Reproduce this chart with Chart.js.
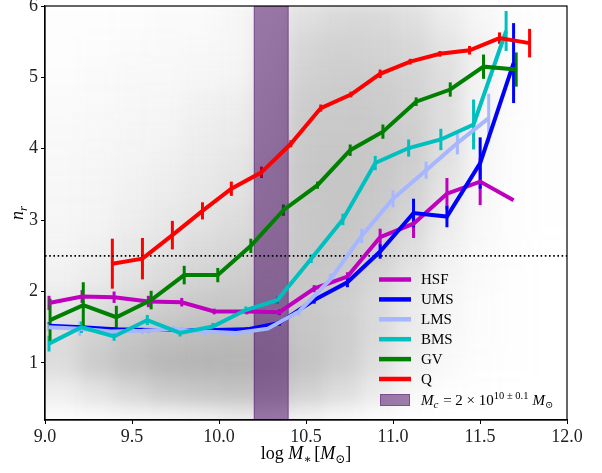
<!DOCTYPE html>
<html>
<head>
<meta charset="utf-8">
<script src="https://cdn.jsdelivr.net/npm/chart.js@4.4.1/dist/chart.umd.min.js"></script>
<style>
  body { margin: 0; background: #fff; }
  canvas { display: block; }
</style>
</head>
<body>
<canvas id="myChart" width="602" height="473"></canvas>
<script>
// tick labels
const xTicks = [9.0, 9.5, 10.0, 10.5, 11.0, 11.5, 12.0];
const yTicks = [1, 2, 3, 4, 5, 6];

// median n_r per mass bin
const hsfX = [9.023, 9.213, 9.397, 9.594, 9.786, 9.972, 10.16, 10.347, 10.547, 10.738, 10.926, 11.118, 11.31, 11.501, 11.693];
const hsfY = [1.84, 1.93, 1.92, 1.86, 1.85, 1.72, 1.72, 1.71, 2.04, 2.21, 2.76, 2.95, 3.37, 3.54, 3.28];
const hsfErr = [0.1, 0.09, 0.08, 0.08, 0.06, 0.04, 0.04, 0.04, 0.05, 0.06, 0.12, 0.2, 0.22, 0.33, 0];

const umsX = [9.023, 9.213, 9.397, 9.594, 9.786, 9.972, 10.16, 10.347, 10.547, 10.738, 10.926, 11.118, 11.31, 11.501, 11.693];
const umsY = [1.52, 1.50, 1.47, 1.46, 1.46, 1.46, 1.47, 1.56, 1.88, 2.13, 2.56, 3.10, 3.05, 3.80, 5.20];
const umsErr = [0.05, 0.04, 0.03, 0.03, 0.03, 0.03, 0.03, 0.04, 0.05, 0.07, 0.1, 0.2, 0.15, 0.36, 0.56];

const lmsX = [9.02, 9.20, 9.38, 9.56, 9.74, 9.92, 10.10, 10.28, 10.46, 10.64, 10.82, 11.0, 11.19, 11.37, 11.55];
const lmsY = [1.50, 1.48, 1.44, 1.45, 1.47, 1.44, 1.42, 1.48, 1.72, 2.17, 2.78, 3.30, 3.70, 4.08, 4.43];
const lmsErr = [0.05, 0.1, 0.05, 0.05, 0.05, 0.05, 0.05, 0.05, 0.06, 0.08, 0.1, 0.12, 0.12, 0.16, 0.34];

const bmsX = [9.023, 9.21, 9.397, 9.588, 9.776, 9.964, 10.154, 10.336, 10.53, 10.712, 10.898, 11.09, 11.275, 11.463, 11.65];
const bmsY = [1.27, 1.50, 1.37, 1.60, 1.42, 1.51, 1.74, 1.88, 2.46, 3.01, 3.80, 4.01, 4.13, 4.34, 5.65];
const bmsErr = [0.11, 0.08, 0.06, 0.07, 0.05, 0.05, 0.05, 0.05, 0.06, 0.08, 0.1, 0.12, 0.15, 0.35, 0.28];

const gvX = [9.029, 9.22, 9.41, 9.61, 9.80, 9.993, 10.183, 10.37, 10.566, 10.754, 10.942, 11.133, 11.329, 11.52, 11.708];
const gvY = [1.60, 1.81, 1.64, 1.88, 2.23, 2.23, 2.64, 3.14, 3.49, 3.98, 4.24, 4.66, 4.83, 5.15, 5.11];
const gvErr = [0.3, 0.32, 0.16, 0.13, 0.13, 0.1, 0.1, 0.08, 0.05, 0.08, 0.1, 0.06, 0.1, 0.17, 0.24];

const qX = [9.387, 9.56, 9.732, 9.905, 10.071, 10.244, 10.413, 10.585, 10.758, 10.926, 11.099, 11.27, 11.44, 11.612, 11.785];
const qY = [2.39, 2.46, 2.79, 3.13, 3.44, 3.67, 4.07, 4.57, 4.76, 5.05, 5.22, 5.33, 5.38, 5.55, 5.48];
const qErr = [0.35, 0.29, 0.2, 0.12, 0.1, 0.08, 0.05, 0.05, 0.04, 0.06, 0.04, 0.04, 0.06, 0.08, 0.2];

// critical mass band and n_r threshold
const bandLo = 10.2;
const bandHi = 10.4;
const nThreshold = 2.5;

// background galaxy cloud: rough density per cell
const cloudXEdges = [9.0, 9.2, 9.4, 9.6, 9.8, 10.0, 10.2, 10.4, 10.6, 10.8, 11.0, 11.2, 11.4, 11.6, 11.8, 12.0];
const cloudYEdges = [0.2, 0.4, 0.8, 1.2, 1.6, 2.0, 2.4, 2.8, 3.2, 3.6, 4.0, 4.4, 4.8, 5.2, 5.6, 6.0];
const cloudDensity = [
  [0.02, 0.03, 0.05, 0.07, 0.10, 0.15, 0.15, 0.10, 0.05, 0.03, 0.01, 0, 0, 0, 0],
  [0.15, 0.25, 0.35, 0.45, 0.50, 0.52, 0.50, 0.40, 0.30, 0.18, 0.07, 0.02, 0.01, 0, 0],
  [0.30, 0.45, 0.55, 0.62, 0.65, 0.65, 0.62, 0.52, 0.42, 0.28, 0.13, 0.05, 0.02, 0.01, 0],
  [0.30, 0.40, 0.50, 0.55, 0.58, 0.60, 0.58, 0.50, 0.44, 0.32, 0.18, 0.07, 0.03, 0.01, 0],
  [0.20, 0.28, 0.35, 0.42, 0.48, 0.50, 0.50, 0.47, 0.42, 0.32, 0.18, 0.08, 0.03, 0.01, 0],
  [0.12, 0.18, 0.25, 0.32, 0.38, 0.42, 0.46, 0.48, 0.45, 0.36, 0.22, 0.10, 0.04, 0.01, 0],
  [0.10, 0.13, 0.20, 0.25, 0.32, 0.35, 0.42, 0.48, 0.48, 0.42, 0.28, 0.13, 0.05, 0.02, 0],
  [0.08, 0.10, 0.15, 0.20, 0.25, 0.30, 0.38, 0.48, 0.50, 0.46, 0.35, 0.17, 0.06, 0.02, 0.01],
  [0.07, 0.09, 0.12, 0.16, 0.20, 0.25, 0.36, 0.48, 0.50, 0.48, 0.40, 0.22, 0.07, 0.02, 0.01],
  [0.06, 0.08, 0.10, 0.13, 0.18, 0.22, 0.34, 0.48, 0.50, 0.48, 0.42, 0.26, 0.08, 0.02, 0.01],
  [0.05, 0.06, 0.09, 0.10, 0.15, 0.18, 0.30, 0.46, 0.48, 0.47, 0.42, 0.28, 0.10, 0.02, 0.01],
  [0.04, 0.05, 0.07, 0.08, 0.12, 0.15, 0.27, 0.44, 0.46, 0.45, 0.40, 0.28, 0.10, 0.03, 0.01],
  [0.03, 0.04, 0.06, 0.06, 0.08, 0.10, 0.24, 0.40, 0.43, 0.42, 0.38, 0.28, 0.10, 0.03, 0.01],
  [0.02, 0.03, 0.04, 0.05, 0.06, 0.08, 0.20, 0.36, 0.40, 0.38, 0.34, 0.25, 0.12, 0.03, 0.01],
  [0.02, 0.02, 0.03, 0.04, 0.04, 0.08, 0.18, 0.28, 0.33, 0.33, 0.28, 0.18, 0.08, 0.03, 0.01]
];

const serif = '"Liberation Serif", "DejaVu Serif", serif';
const bandColor = 'rgba(65, 0, 95, 0.5)';

const series = [
  { label: 'HSF', x: hsfX, y: hsfY, err: hsfErr, color: '#bf00bf', order: 6 },
  { label: 'UMS', x: umsX, y: umsY, err: umsErr, color: '#0000ff', order: 5 },
  { label: 'LMS', x: lmsX, y: lmsY, err: lmsErr, color: '#a6b6ff', order: 4 },
  { label: 'BMS', x: bmsX, y: bmsY, err: bmsErr, color: '#00bfbf', order: 3 },
  { label: 'GV',  x: gvX,  y: gvY,  err: gvErr,  color: '#008000', order: 2 },
  { label: 'Q',   x: qX,   y: qY,   err: qErr,   color: '#ff0000', order: 1 }
];

// draws a run of text pieces (italic / sub / superscript) starting at x
function richText(ctx, parts, x, y, align) {
  const widths = parts.map(p => {
    ctx.font = `${p.italic ? 'italic ' : ''}${p.size}px ${serif}`;
    return ctx.measureText(p.t).width + (p.gap || 0);
  });
  const total = widths.reduce((a, b) => a + b, 0);
  let cx = align === 'center' ? x - total / 2 : x;
  ctx.textBaseline = 'alphabetic';
  ctx.textAlign = 'left';
  parts.forEach((p, i) => {
    ctx.font = `${p.italic ? 'italic ' : ''}${p.size}px ${serif}`;
    ctx.fillText(p.t, cx, y + (p.dy || 0));
    cx += widths[i];
  });
}

const backdrop = {
  id: 'backdrop',
  beforeDatasetsDraw(chart) {
    const { ctx, chartArea: a, scales: { x, y } } = chart;

    // galaxy cloud, softened
    const off = document.createElement('canvas');
    off.width = chart.width;
    off.height = chart.height;
    const o = off.getContext('2d');
    cloudDensity.forEach((row, j) => {
      row.forEach((v, i) => {
        if (!v) return;
        let x0 = x.getPixelForValue(cloudXEdges[i]);
        let x1 = x.getPixelForValue(cloudXEdges[i + 1]);
        let y0 = y.getPixelForValue(cloudYEdges[j + 1]);
        let y1 = y.getPixelForValue(cloudYEdges[j]);
        if (i === 0) x0 -= 20;
        if (i === row.length - 1) x1 += 20;
        if (j === 0) y1 += 20;
        if (j === cloudDensity.length - 1) y0 -= 20;
        o.fillStyle = `rgba(110, 110, 110, ${v * 0.78})`;
        o.fillRect(x0, y0, x1 - x0 + 0.5, y1 - y0 + 0.5);
      });
    });
    ctx.save();
    ctx.beginPath();
    ctx.rect(a.left, a.top, a.right - a.left, a.bottom - a.top);
    ctx.clip();
    ctx.filter = 'blur(9px)';
    ctx.drawImage(off, 0, 0);
    ctx.filter = 'none';

    // error bars (sit under the band)
    series.forEach(s => {
      ctx.strokeStyle = s.color;
      ctx.lineWidth = 3;
      s.x.forEach((xv, i) => {
        if (!s.err[i]) return;
        const px = x.getPixelForValue(xv);
        ctx.beginPath();
        ctx.moveTo(px, y.getPixelForValue(s.y[i] - s.err[i]));
        ctx.lineTo(px, y.getPixelForValue(s.y[i] + s.err[i]));
        ctx.stroke();
      });
    });

    // critical mass band
    const bx0 = x.getPixelForValue(bandLo);
    const bx1 = x.getPixelForValue(bandHi);
    ctx.fillStyle = bandColor;
    ctx.fillRect(bx0, a.top, bx1 - bx0, a.bottom - a.top);
    ctx.strokeStyle = 'rgba(65, 0, 95, 0.35)';
    ctx.lineWidth = 1;
    ctx.strokeRect(bx0 + 0.5, a.top, bx1 - bx0 - 1, a.bottom - a.top);

    // threshold
    const ty = y.getPixelForValue(nThreshold);
    ctx.strokeStyle = '#000';
    ctx.lineWidth = 1.6;
    ctx.setLineDash([1.6, 2.6]);
    ctx.beginPath();
    ctx.moveTo(a.left, ty);
    ctx.lineTo(a.right, ty);
    ctx.stroke();
    ctx.setLineDash([]);
    ctx.restore();
  },
  afterDraw(chart) {
    const { ctx, chartArea: a } = chart;
    ctx.save();
    ctx.strokeStyle = '#000';
    ctx.lineWidth = 1.2;
    ctx.strokeRect(a.left, a.top, a.right - a.left, a.bottom - a.top);

    // legend
    ctx.fillStyle = '#000';
    const lx0 = 379, lx1 = 411, tx = 421;
    series.forEach((s, i) => {
      const ly = 279.5 + i * 19.9;
      ctx.strokeStyle = s.color;
      ctx.lineWidth = 4.5;
      ctx.beginPath();
      ctx.moveTo(lx0, ly);
      ctx.lineTo(lx1, ly);
      ctx.stroke();
      ctx.font = `15px ${serif}`;
      ctx.textAlign = 'left';
      ctx.textBaseline = 'middle';
      ctx.fillText(s.label, tx, ly + 1);
    });
    ctx.fillStyle = bandColor;
    ctx.fillRect(380, 394, 30, 12);
    ctx.strokeStyle = 'rgba(65, 0, 95, 0.35)';
    ctx.lineWidth = 1;
    ctx.strokeRect(380.5, 394.5, 29, 11);
    ctx.fillStyle = '#000';
    richText(ctx, [
      { t: 'M', italic: true, size: 15 },
      { t: 'c', italic: true, size: 11, dy: 3, gap: 1 },
      { t: ' = 2 × 10', size: 15 },
      { t: '10 ± 0.1', size: 10.5, dy: -6, gap: 4 },
      { t: 'M', italic: true, size: 15 },
      { t: '⊙', size: 10, dy: 3 }
    ], tx, 405);

    // axis titles
    richText(ctx, [
      { t: 'log ', size: 18 },
      { t: 'M', italic: true, size: 18 },
      { t: '∗', size: 12, dy: 4, gap: 3 },
      { t: '[', size: 18 },
      { t: 'M', italic: true, size: 18 },
      { t: '⊙', size: 12, dy: 4 },
      { t: ']', size: 18 }
    ], 306, 459, 'center');

    ctx.translate(23, 213);
    ctx.rotate(-Math.PI / 2);
    richText(ctx, [
      { t: 'n', italic: true, size: 18 },
      { t: 'r', italic: true, size: 13, dy: 4 }
    ], 0, 0, 'center');
    ctx.restore();
  }
};

const tickFont = { family: serif, size: 18 };

const ctx = document.getElementById('myChart').getContext('2d');

const myChart = new Chart(ctx, {
  type: 'line',
  data: {
    datasets: series.map(s => ({
      label: s.label,
      data: s.x.map((xv, i) => ({ x: xv, y: s.y[i] })),
      borderColor: s.color,
      backgroundColor: s.color,
      borderWidth: 4,
      pointRadius: 0,
      tension: 0,
      order: s.order
    }))
  },
  options: {
    responsive: false,
    animation: false,
    layout: { padding: { top: 6, right: 35, left: 0, bottom: 0 } },
    plugins: {
      legend: { display: false },
      tooltip: { enabled: false }
    },
    scales: {
      x: {
        type: 'linear',
        min: 9,
        max: 12,
        afterBuildTicks: s => { s.ticks = xTicks.map(v => ({ value: v })); },
        afterFit: s => { s.height = 53; s.paddingLeft = 0; s.paddingRight = 0; },
        ticks: { font: tickFont, color: '#222', padding: 2, maxRotation: 0, callback: v => v.toFixed(1) },
        grid: { drawOnChartArea: false, tickLength: 4, color: '#000' },
        border: { color: '#000', width: 1.2 }
      },
      y: {
        type: 'linear',
        min: 0.2,
        max: 6,
        afterBuildTicks: s => { s.ticks = yTicks.map(v => ({ value: v })); },
        afterFit: s => { s.width = 45; s.paddingTop = 0; s.paddingBottom = 0; },
        ticks: { font: tickFont, color: '#222', padding: 3, callback: v => String(v) },
        grid: { drawOnChartArea: false, tickLength: 4, color: '#000' },
        border: { color: '#000', width: 1.2 }
      }
    }
  },
  plugins: [backdrop]
});
</script>
</body>
</html>
